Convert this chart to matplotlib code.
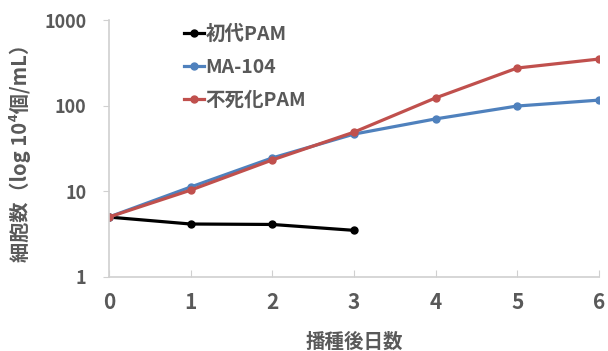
import numpy as np
import matplotlib.pyplot as plt

plt.rcParams['font.family'] = ['Noto Sans CJK JP', 'DejaVu Sans']

days = [0, 1, 2, 3, 4, 5, 6]
primary_days = [0, 1, 2, 3]
primary_pam = [5.0, 4.15, 4.1, 3.5]
ma104 = [5.0, 11.2, 24.5, 46.5, 70, 99, 116]
immortal_pam = [5.0, 10.3, 23.2, 49, 123, 275, 350]

text_gray = '#595959'
axis_gray = '#D0D0D0'

fig = plt.figure(figsize=(6.08, 3.51), dpi=100)
ax = fig.add_axes([0.179, 0.211, 0.806, 0.732])

ax.plot(primary_days, primary_pam, color='black', lw=2.3, marker='o', ms=5, label='初代PAM')
ax.plot(days, ma104, color='#4F81BD', lw=2.3, marker='o', ms=5, label='MA-104')
ax.plot(days, immortal_pam, color='#C0504D', lw=2.3, marker='o', ms=5, label='不死化PAM')

ax.set_yscale('log')
ax.set_ylim(1, 1000)
ax.set_xlim(0, 6)
ax.set_yticks([1, 10, 100, 1000])
ax.set_yticklabels(['1', '10', '100', '1000'])
ax.minorticks_off()
ax.set_xticks(days)

for s in ['top', 'right']:
    ax.spines[s].set_visible(False)
for s in ['left', 'bottom']:
    ax.spines[s].set_color(axis_gray)
    ax.spines[s].set_linewidth(1.2)

ax.tick_params(axis='x', direction='in', length=5, color=axis_gray, labelsize=15,
               labelcolor=text_gray, pad=11)
ax.tick_params(axis='y', direction='out', length=4, color=axis_gray, labelsize=13,
               labelcolor=text_gray, pad=12)
for lab in ax.get_xticklabels() + ax.get_yticklabels():
    lab.set_fontweight('bold')

ax.set_xlabel('播種後日数', fontsize=14, color=text_gray, fontweight='bold', labelpad=14)
ax.set_ylabel('細胞数（log 10⁴個/mL）', fontsize=14.5, color=text_gray, fontweight='bold', labelpad=10)

leg = ax.legend(loc='upper left', bbox_to_anchor=(0.118, 1.05), frameon=False,
                handlelength=1.0, handletextpad=0.1, labelspacing=0.72,
                prop={'size': 14, 'weight': 'bold'})
for t in leg.get_texts():
    t.set_color(text_gray)

fig.savefig('out.png', dpi=100)
